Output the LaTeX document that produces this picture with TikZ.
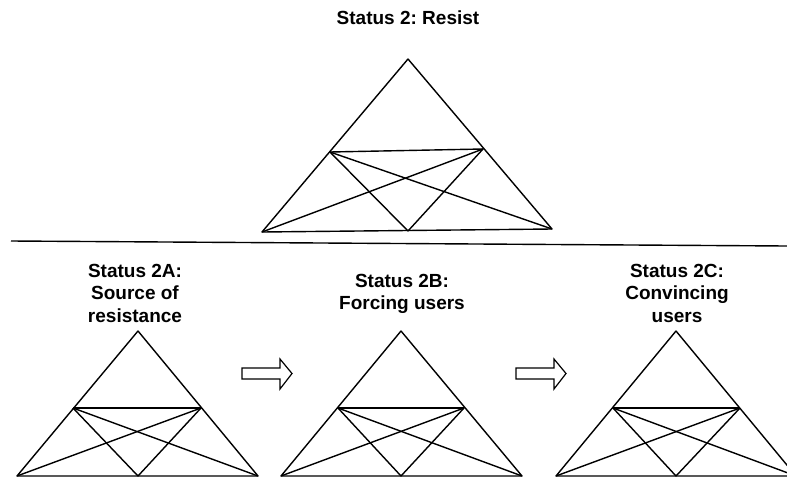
\documentclass[tikz,border=0pt]{standalone}
\usepackage{fontspec}
\setmainfont{Liberation Sans}
\frenchspacing
\begin{document}
\begin{tikzpicture}[x=1pt,y=-1pt,
  edge/.style={draw=black,line width=1.4pt,line join=round},
  lbl/.style={font=\bfseries\fontsize{19}{22.5}\selectfont,align=center,inner sep=0pt,anchor=north},
  blockarrow/.style={draw=black,line width=1.2pt,fill=white,line join=miter}]
\useasboundingbox (0,0) rectangle (787,477);
\clip (0,0) rectangle (787,477);

% Titles
\node[lbl] (t0) at (408,11) {Status 2: Resist};
\node[lbl] (t2a) at (135,264) {Status 2A:\\Source of\\resistance};
\node[lbl] (t2b) at (402,274) {Status 2B:\\Forcing users};
\node[lbl] (t2c) at (677,264) {Status 2C:\\Convincing\\users};

% Top triangle
\coordinate (A0) at (408,59);
\coordinate (BL0) at (262,232);
\coordinate (BR0) at (552,229);
\coordinate (ML0) at (330,152);
\coordinate (MR0) at (483,149);
\coordinate (BM0) at (408,231);
\draw[edge] (A0) -- (BL0) -- (BR0) -- cycle;
\draw[edge] (ML0) -- (MR0);
\draw[edge] (ML0) -- (BR0);
\draw[edge] (MR0) -- (BL0);
\draw[edge] (ML0) -- (BM0) -- (MR0);

% Separator
\coordinate (S1) at (11,241);
\coordinate (S2) at (787,246);
\draw[line width=1.4pt] (S1) -- (S2);

% Bottom triangles
\foreach \n/\ax/\bl/\br/\ml/\mr in {a/138/17/258/73/201, b/401/281/522/338/464, c/676/556/796/613/740}{
  \coordinate (A\n) at (\ax,331);
  \coordinate (BL\n) at (\bl,476);
  \coordinate (BR\n) at (\br,476);
  \coordinate (ML\n) at (\ml,408);
  \coordinate (MR\n) at (\mr,408);
  \coordinate (BM\n) at (\ax,476);
  \draw[edge] (A\n) -- (BL\n) -- (BR\n) -- cycle;
  \draw[edge] (ML\n) -- (MR\n);
  \draw[edge] (ML\n) -- (BR\n);
  \draw[edge] (MR\n) -- (BL\n);
  \draw[edge] (ML\n) -- (BM\n) -- (MR\n);
}

% Block arrows
\draw[blockarrow] (242,368) -- (280,368) -- (280,359) -- (292,373.5) -- (280,389) -- (280,379) -- (242,379) -- cycle;
\draw[blockarrow] (516,368) -- (554,368) -- (554,359) -- (566,373.5) -- (554,389) -- (554,379) -- (516,379) -- cycle;
\end{tikzpicture}
\end{document}
